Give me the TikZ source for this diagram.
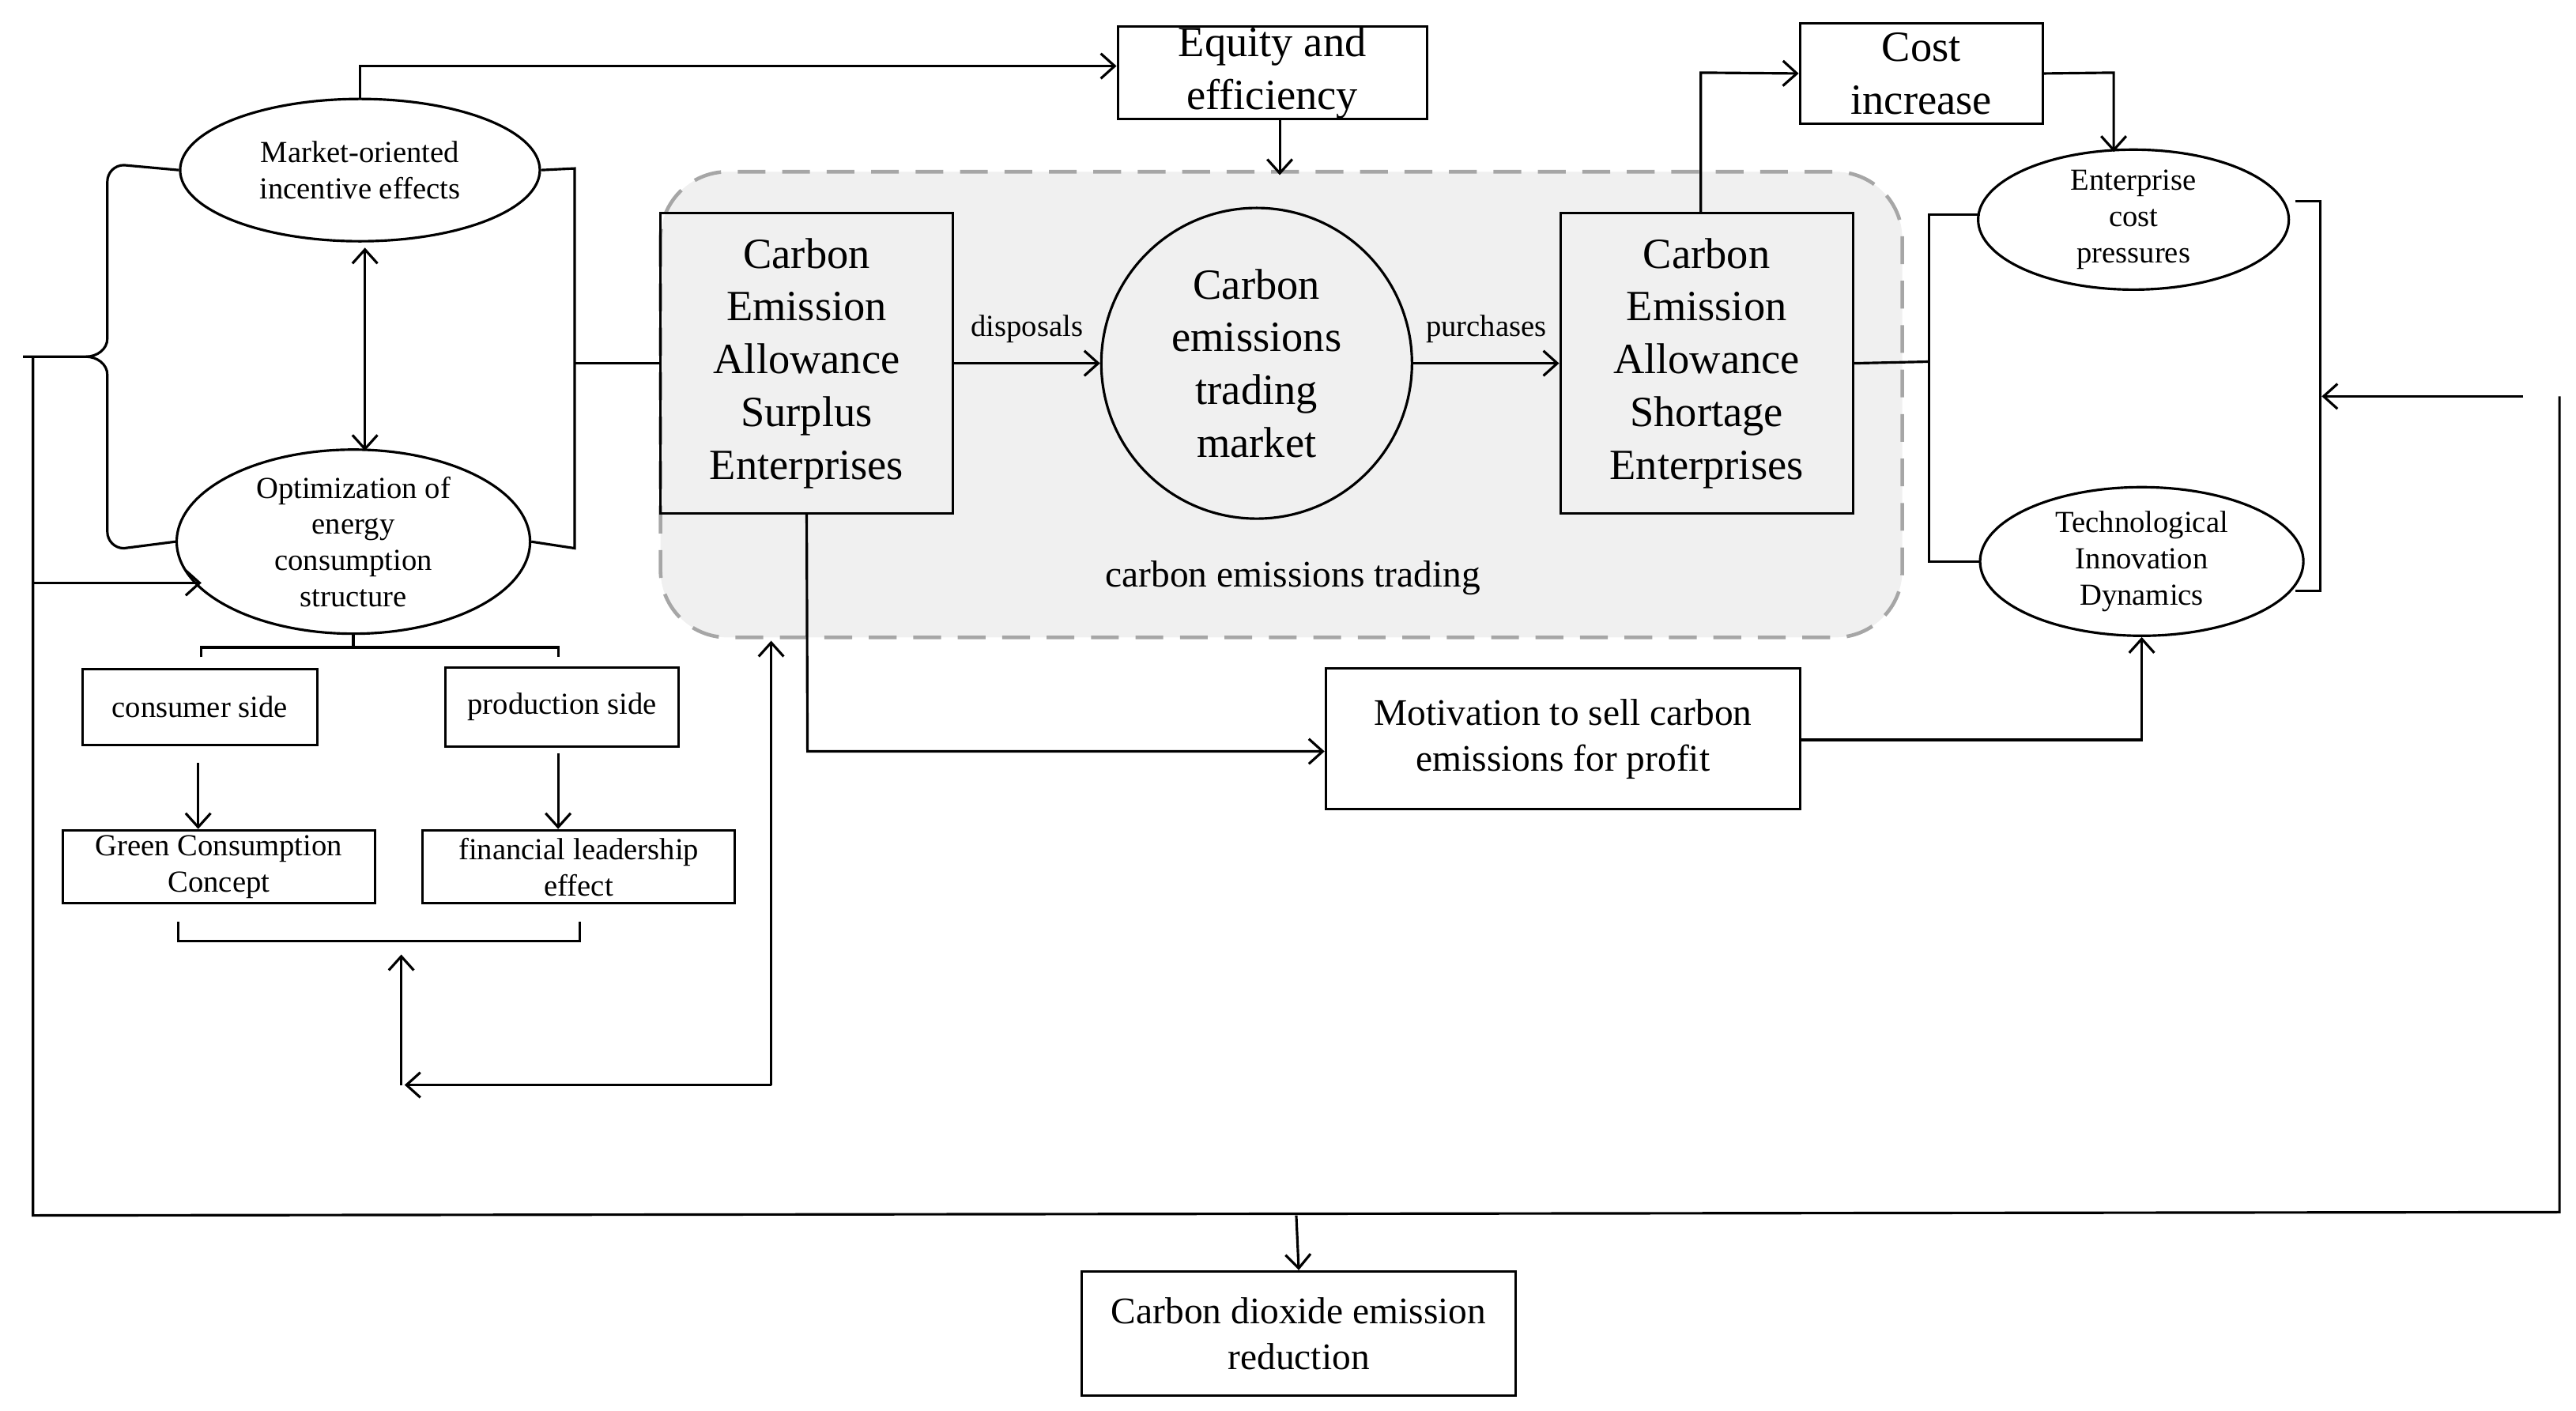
\documentclass[tikz,border=0pt]{standalone}
\usepackage{fontspec}
\setmainfont{Liberation Serif}
\usetikzlibrary{shapes.geometric,arrows.meta}
\begin{document}
\begin{tikzpicture}[x=0.02089cm,y=-0.02089cm,line width=0.9pt,>={Straight Barb[length=5pt,width=9pt]},
 big/.style={font=\fontsize{15.5}{19}\selectfont,align=center,inner sep=0pt},
 mid/.style={font=\fontsize{13.5}{16.5}\selectfont,align=center,inner sep=0pt},
 sm/.style={font=\fontsize{11}{13}\selectfont,align=center,inner sep=0pt},
 box/.style={draw,rectangle},
 ell/.style={draw,ellipse}]
\useasboundingbox (0,0) rectangle (1560,854);
\fill[gray!12,draw=gray!70,dashed,line width=1.3pt,rounded corners=0.85cm,dash pattern=on 10pt off 6pt] (400,104) rectangle (1152,386);
\node[big,box,minimum width=3.70cm,minimum height=3.80cm] (sur) at (488.5,220) {Carbon\\Emission\\Allowance\\Surplus\\Enterprises};
\node[big,draw,circle,minimum size=3.93cm] (mkt) at (761,220) {Carbon\\emissions\\trading\\market};
\node[big,box,minimum width=3.70cm,minimum height=3.80cm] (sho) at (1033.5,220) {Carbon\\Emission\\Allowance\\Shortage\\Enterprises};
\node[mid] (cet) at (783,350) {carbon emissions trading};
\node[big,box,minimum width=3.91cm,minimum height=1.17cm] (eq) at (770.5,44) {Equity and\\efficiency};
\node[big,box,minimum width=3.07cm,minimum height=1.27cm] (ci) at (1163.5,44.5) {Cost\\increase};
\node[sm,ell,minimum width=4.55cm,minimum height=1.80cm] (mo) at (218,103) {Market-oriented\\incentive effects};
\node[sm,ell,minimum width=4.47cm,minimum height=2.01cm] (op) at (214,328) {Optimization of\\energy\\consumption\\structure};
\node[sm,ell,minimum width=3.93cm,minimum height=1.67cm] (ecp) at (1292,133) {Enterprise\\cost\\pressures};
\node[sm,ell,minimum width=4.09cm,minimum height=1.88cm] (tid) at (1297,340) {Technological\\Innovation\\Dynamics};
\node[sm,box,minimum width=2.97cm,minimum height=0.96cm] (cs) at (121,428) {consumer side};
\node[sm,box,minimum width=2.95cm,minimum height=1.0cm] (ps) at (340.5,428) {production side};
\node[sm,box,minimum width=3.95cm,minimum height=0.92cm] (gc) at (132.5,525) {Green Consumption\\Concept};
\node[sm,box,minimum width=3.95cm,minimum height=0.92cm] (fl) at (350.5,525) {financial leadership\\effect};
\node[mid,box,minimum width=6.0cm,minimum height=1.78cm] (mot) at (946.5,447.5) {Motivation to sell carbon\\emissions for profit};
\node[mid,box,minimum width=5.49cm,minimum height=1.57cm] (co) at (786.5,807.5) {Carbon dioxide emission\\reduction};
% trading arrows
\draw[->] (sur.east) -- node[sm,above=7pt]{disposals} (mkt.west);
\draw[->] (mkt.east) -- node[sm,above=7pt]{purchases} (sho.west);
% top
\draw[->] (mo.north) -- (218,40) -- (eq.west |- 0,40);
\draw[->] (eq.south -| 775,0) -- (775,106);
\draw[->] (sho.north -| 1030,0) -- (1030,44) -- (ci.west);
\draw[->] (ci.east) -- (1280,44) -- (1280,92);
\draw[<->] (221,150) -- (221,273);
% left brace
\draw (mo.west) -- (75,100) to[out=180,in=90] (65,110) -- (65,205) to[out=-90,in=0] (52,216) -- (14,216);
\draw (52,216) to[out=0,in=90] (65,227) -- (65,322) to[out=-90,in=180] (75,332) -- (op.west);
% right bracket of left ellipses
\draw (mo.east) -- (348,102) -- (348,332) -- (op.east);
\draw (348,220) -- (sur.west);
% bracket under optimization
\draw (op.south) -- (214,392);
\draw (122,398) -- (122,392) -- (338,392) -- (338,398);
\draw[->] (120,462) -- (120,502);
\draw[->] (338,456) -- (338,502);
\draw (108,558) -- (108,570) -- (351,570) -- (351,558);
\draw[->] (243,657) -- (243,578);
\draw[->] (467,657) -- (245,657);
\draw[->] (467,657) -- (467,388);
% big loop
\draw (20,216) -- (20,736) -- (1550,734) -- (1550,240);
\draw[->] (20,353) -- (122,353);
\draw[->] (1528,240) -- (1406,240);
\draw[->] (785,736) -- (co.north);
% right brackets
\draw (sho.east) -- (1168,219);
\draw (1199,130) -- (1168,130) -- (1168,340) -- (1199,340);
\draw (1390,122) -- (1405,122) -- (1405,358) -- (1390,358);
% motivation
\draw[->] (sur.south) -- (489,455) -- (mot.west |- 0,455);
\draw[->] (mot.east |- 0,448) -- (1297,448) -- (tid.south);
\end{tikzpicture}
\end{document}
